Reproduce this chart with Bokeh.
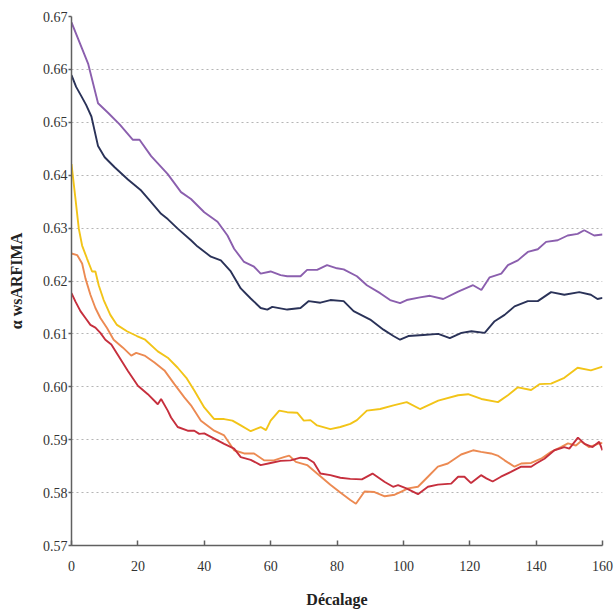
from bokeh.plotting import figure
from bokeh.models import Range1d, FixedTicker, NumeralTickFormatter
from bokeh.embed import file_html
from bokeh.resources import INLINE

# ---- data ----
x_ticks = [0, 20, 40, 60, 80, 100, 120, 140, 160]
y_ticks = [0.57, 0.58, 0.59, 0.60, 0.61, 0.62, 0.63, 0.64, 0.65, 0.66, 0.67]

purple_x = [0, 3, 5, 8, 11, 14.5, 18.5, 20.5, 24, 29, 33, 36, 40, 44, 47, 49, 52, 55, 57, 60,
            63, 65, 69, 71, 74, 77, 80, 82, 86, 89, 93, 96, 99, 101, 105, 108, 112, 116.5, 121,
            123.5, 126, 129.5, 131.5, 134.5, 137.5, 140.5, 143, 146.5, 149.5, 152.5, 154.5, 157.5, 160]
purple_y = [0.6689, 0.6642, 0.6611, 0.6536, 0.6518, 0.6496, 0.6467, 0.6467, 0.6436, 0.6402, 0.6368,
            0.6355, 0.6330, 0.6312, 0.6286, 0.6261, 0.6236, 0.6227, 0.6214, 0.6218, 0.6211, 0.6209,
            0.6209, 0.6221, 0.6221, 0.6230, 0.6224, 0.6222, 0.6209, 0.6192, 0.6177, 0.6164, 0.6158,
            0.6164, 0.6169, 0.6172, 0.6166, 0.6180, 0.6192, 0.6183, 0.6207, 0.6214, 0.6230, 0.6239,
            0.6255, 0.6260, 0.6274, 0.6277, 0.6286, 0.6289, 0.6296, 0.6286, 0.6288]

navy_x = [0, 1.4, 3, 4.4, 6, 8, 10, 13, 17, 21, 24, 27, 29, 32, 36, 38, 42, 45, 48, 51, 54, 57, 59,
          60.5, 65, 69, 71.5, 75, 78, 82, 85, 90, 94, 97, 99, 101.5, 106, 110.5, 114, 117.5, 120.5,
          124.5, 127.5, 130.5, 133.5, 137.5, 140.5, 144.5, 148.5, 153, 156.5, 158.5, 160]
navy_y = [0.6589, 0.6567, 0.6549, 0.6533, 0.6511, 0.6455, 0.6434, 0.6415, 0.6392, 0.6371, 0.6349,
          0.6327, 0.6317, 0.6299, 0.6277, 0.6265, 0.6246, 0.6239, 0.6218, 0.6186, 0.6167, 0.6149,
          0.6146, 0.6151, 0.6146, 0.6149, 0.6162, 0.6159, 0.6164, 0.6162, 0.6143, 0.6127, 0.6108,
          0.6096, 0.6089, 0.6096, 0.6098, 0.6100, 0.6092, 0.6102, 0.6105, 0.6102, 0.6124, 0.6136,
          0.6152, 0.6162, 0.6162, 0.6179, 0.6174, 0.6179, 0.6174, 0.6166, 0.6168]

yellow_x = [0, 1.2, 2.2, 3.2, 4.7, 6.2, 7.2, 8.2, 9.7, 11.7, 13.7, 16.7, 19.7, 22.2, 26, 29, 32, 34.6,
            37, 40, 43, 46, 48.5, 51, 54, 57, 58.6, 60, 62.6, 65, 68, 70, 72, 74, 78, 81, 84, 86, 89,
            93, 97, 101, 105, 110.5, 116.5, 119.5, 123.5, 128.5, 131.5, 134.5, 138.5, 141, 144.5,
            148.5, 152.5, 156.5, 160]
yellow_y = [0.6421, 0.6355, 0.6299, 0.6267, 0.6242, 0.6218, 0.6218, 0.6192, 0.6164, 0.6136, 0.6117,
            0.6105, 0.6096, 0.6089, 0.6067, 0.6055, 0.6036, 0.6017, 0.5993, 0.5961, 0.5939, 0.5939,
            0.5936, 0.5927, 0.5916, 0.5924, 0.5918, 0.5936, 0.5955, 0.5952, 0.5951, 0.5936, 0.5937,
            0.5927, 0.5920, 0.5924, 0.5930, 0.5937, 0.5955, 0.5958, 0.5965, 0.5971, 0.5958, 0.5974,
            0.5984, 0.5986, 0.5977, 0.5971, 0.5984, 0.5999, 0.5994, 0.6005, 0.6006, 0.6017, 0.6036,
            0.6031, 0.6038]

orange_x = [0, 1.7, 3.2, 4.2, 5.7, 7.2, 8.7, 10.7, 12.7, 15.5, 18, 19.5, 22, 25, 28, 31, 34, 36, 39,
            43, 46, 49, 52, 55, 58, 61, 64, 65.6, 67.6, 71, 74, 78, 81, 84, 85.7, 88.3, 91.3, 94.4,
            97.4, 99.4, 101.4, 104.4, 107.4, 110.4, 113.4, 117.4, 121, 123.4, 126.4, 128.4, 130.5,
            133.5, 135.5, 138.5, 141.5, 144.5, 147.5, 149.6, 152, 153.5, 156, 158.6, 160]
orange_y = [0.6252, 0.6249, 0.6233, 0.6205, 0.6174, 0.6149, 0.6130, 0.6111, 0.6089, 0.6074, 0.6059,
            0.6064, 0.6059, 0.6046, 0.6031, 0.6005, 0.5980, 0.5965, 0.5936, 0.5917, 0.5908, 0.5880,
            0.5874, 0.5874, 0.5861, 0.5861, 0.5867, 0.5870, 0.5858, 0.5852, 0.5836, 0.5815, 0.5800,
            0.5786, 0.5779, 0.5802, 0.5801, 0.5793, 0.5796, 0.5802, 0.5808, 0.5811, 0.5830, 0.5849,
            0.5855, 0.5872, 0.5880, 0.5877, 0.5874, 0.5870, 0.5861, 0.5849, 0.5855, 0.5856, 0.5864,
            0.5877, 0.5886, 0.5893, 0.5889, 0.5897, 0.5886, 0.5892, 0.5894]

red_x = [0, 1.2, 2.7, 4.2, 5.7, 7.2, 8.7, 10.2, 12, 14.5, 17, 20, 23, 26, 27, 29, 30, 32, 35, 37,
         38.5, 40, 43, 46, 49, 51, 54, 57, 60, 63, 66, 69, 71, 73, 75, 78, 81, 84, 87.5, 90.7, 94.4,
         96.9, 98.4, 100.9, 104.4, 107.4, 110.4, 114.4, 116.5, 118.4, 120.4, 123.4, 125, 126.9,
         129.4, 132.4, 135.5, 138.5, 140, 142.5, 145.5, 148.5, 150, 152.6, 154.6, 157, 159, 160]
red_y = [0.6177, 0.6161, 0.6143, 0.6130, 0.6117, 0.6112, 0.6102, 0.6089, 0.6080, 0.6055, 0.6030,
         0.6002, 0.5986, 0.5967, 0.5977, 0.5955, 0.5942, 0.5924, 0.5917, 0.5917, 0.5911, 0.5912,
         0.5902, 0.5892, 0.5883, 0.5867, 0.5862, 0.5852, 0.5856, 0.5860, 0.5861, 0.5866, 0.5865,
         0.5857, 0.5836, 0.5833, 0.5828, 0.5826, 0.5825, 0.5836, 0.5820, 0.5811, 0.5814, 0.5808,
         0.5797, 0.5811, 0.5815, 0.5817, 0.5830, 0.5830, 0.5818, 0.5833, 0.5827, 0.5821, 0.5830,
         0.5839, 0.5849, 0.5849, 0.5855, 0.5864, 0.5880, 0.5886, 0.5883, 0.5904, 0.5892, 0.5886,
         0.5896, 0.5880]

series = [
    (purple_x, purple_y, "#8B5FAE"),
    (navy_x, navy_y, "#2A3258"),
    (yellow_x, yellow_y, "#F2C418"),
    (orange_x, orange_y, "#EC8A52"),
    (red_x, red_y, "#C62F3D"),
]

SERIF = "Liberation Serif"

p = figure(width=616, height=610, output_backend="svg", toolbar_location=None,
           x_range=Range1d(0, 160), y_range=Range1d(0.57, 0.67),
           min_border_left=71, min_border_right=14, min_border_top=16, min_border_bottom=61)
p.outline_line_color = None
p.background_fill_color = "white"
p.border_fill_color = "white"

for xs, ys, c in series:
    p.line(xs, ys, line_color=c, line_width=1.9)

p.xgrid.visible = False
p.ygrid.grid_line_color = "#b5b5b5"
p.ygrid.grid_line_dash = "2 3"
p.ygrid.grid_line_width = 1

p.xaxis.ticker = FixedTicker(ticks=x_ticks)
p.yaxis.ticker = FixedTicker(ticks=y_ticks)
p.yaxis.formatter = NumeralTickFormatter(format="0.00")

for ax in (p.xaxis[0], p.yaxis[0]):
    ax.axis_line_color = "#606060"
    ax.axis_line_width = 1.5
    ax.major_tick_line_color = "#606060"
    ax.major_tick_line_width = 1.5
    ax.minor_tick_line_color = None
    ax.major_label_text_font = SERIF
    ax.major_label_text_font_size = "14px"
    ax.major_label_text_color = "#333333"
    ax.axis_label_text_font = SERIF
    ax.axis_label_text_font_size = "16px"
    ax.axis_label_text_font_style = "bold"
    ax.axis_label_text_color = "#222222"

p.xaxis.major_tick_in = 5
p.xaxis.major_tick_out = 0
p.xaxis.major_label_standoff = 15
p.xaxis.axis_label = "Décalage"
p.xaxis.axis_label_standoff = 17

p.yaxis.major_tick_in = 0
p.yaxis.major_tick_out = 3
p.yaxis.major_label_standoff = 1
p.yaxis.axis_label = "α wsARFIMA"
p.yaxis.axis_label_standoff = 15

open("out.html", "w").write(file_html(p, INLINE))
